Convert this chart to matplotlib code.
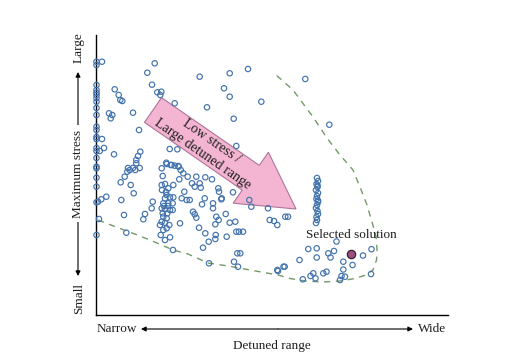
import numpy as np
import matplotlib
matplotlib.use("Agg")
import matplotlib.pyplot as plt
from matplotlib.patches import FancyArrow

plt.rcParams['font.family'] = ['Liberation Serif', 'DejaVu Serif']

# Candidate solutions (detuned range, max stress) in picture units (y grows downward = smaller stress)
detuned = [
    # column at narrow range
    96.5, 96.5, 96.5, 96.5, 96.5, 96.5, 96.5, 96.5, 96.5, 96.5, 96.5, 96.5,
    96.5, 96.5, 96.5, 96.5, 96.5, 96.5, 96.5, 96.5, 96.5, 96.5, 96.5,
    102, 102, 104, 99.7, 98, 101.3, 106.3, 99,
    # upper scatter
    154.7, 147.3, 152, 157.3, 161.3, 160.3, 114.7, 118.7, 120.3, 122.3, 133, 109,
    112.3, 110.7, 139, 174.7, 114, 140.3, 138, 136.3, 136.3, 128, 133, 139.7,
    166.3, 170.7, 174.7, 178.7, 169.7, 177.3, 199.7, 229.7, 248, 224, 229.7,
    261.3, 207, 233.7, 236.3, 305.3, 329.3,
    # left-middle
    124.7, 127.3, 129.7, 135.3, 120.7, 130.7, 133.7, 121.3, 124, 126.3, 173,
    # dense cluster
    161.7, 166.7, 171.7, 178.3, 180.7, 183.3, 187.7, 162.7, 161.7, 165, 173.3,
    168.3, 179.3, 184.3, 166.7, 165, 170, 173.3, 181.7, 186.7, 152.7,
    163.3, 168.3, 172.7, 151.7, 161.7, 165, 170, 172.7, 162.7, 167.3, 145,
    143.3, 163.3, 166.7, 161.7, 165, 169.3, 160, 180, 163.3, 166.7, 160.7,
    170, 165, 164, 168, 162, 166,
    # middle scatter
    196.3, 192, 199.7, 194.7, 200.7, 205.3, 212, 189.7, 202, 204.7, 213, 213,
    219, 221.3, 233, 193, 194.7, 196.3, 216.3, 218.7, 215.3, 225.7, 229.7,
    235.3, 199, 205.3, 215.7, 215.3, 208.7, 226.7, 236.3, 239, 243, 203,
    237.3, 240.3, 234, 238, 209, 269.7, 274, 277.3, 285.3, 251.3, 268, 278,
    284.7, 218.3, 221.7, 249.3,
    # column at wide range
    317, 318, 316.5, 317.5, 316, 318, 317, 316.5, 318, 317, 316, 317.5,
    318, 316.5, 317, 316, 317.5, 318,
    # lower right
    308.3, 316.7, 299.5, 316.7, 328.3, 334, 330.5, 336.5, 343.3, 352.5, 363,
    371.5, 371, 343.3, 341.5, 302.8, 310.5, 313.3, 315.5, 323.3, 326.5, 340,
    345, 277.3, 283.5, 288,
]
stress = [
    61.7, 65, 85, 90, 92.7, 95, 98, 101.7, 108, 115, 126.7, 130,
    137, 139, 148, 151, 158, 166.7, 168.3, 177.7, 186.7, 202.3, 235,
    61.7, 139, 148, 151, 201.7, 199.3, 196.7, 219,
    63.3, 72.7, 84.7, 92.3, 91.7, 95, 89.3, 95, 100, 101, 112.7, 113.3,
    115, 118.3, 130, 103.3, 154.3, 151.7, 156, 160, 163.3, 168, 168, 168,
    162.7, 165, 165.7, 166.7, 149, 149.3, 76.7, 73.3, 69, 88.3, 96.7,
    101.7, 107.3, 118.7, 146, 79, 124.7,
    176.7, 171.7, 170, 170, 182.3, 185, 193.3, 200, 215, 232.7, 250,
    168.3, 164, 165, 166, 170, 173.3, 176.7, 176, 185, 184, 185,
    188.3, 179.3, 191.7, 195, 198.3, 197.3, 197.3, 198.3, 200, 201.7,
    203.3, 203.3, 203.3, 208.3, 208.3, 209.3, 210, 210, 213.3, 213.3, 214,
    219.3, 216.7, 218.3, 221.7, 222.7, 225, 225, 223.3, 230, 228.3, 235,
    237.3, 240, 206, 206, 190, 192,
    176.7, 183.3, 183.3, 186.7, 187.7, 177.3, 179.3, 200, 204.3, 198.3, 203.3, 208.3,
    191.7, 199.3, 192.3, 211.7, 214.3, 217.7, 216.7, 220, 224.3, 214, 222.7,
    221.7, 227.7, 233.3, 235, 239, 241.7, 236.7, 231.7, 231.7, 231.7, 247.7,
    253.3, 253.3, 261.7, 266.7, 263.3, 220, 221, 225, 216.7, 206.7, 208.3, 271,
    266.7, 188.3, 198.3, 200,
    178, 181, 184, 187, 190, 193, 196, 199, 202, 205, 208, 211,
    214, 217, 220, 223, 185.5, 200.5,
    249, 248.3, 260, 257.5, 253.3, 251, 257.5, 241.5, 261.7, 265, 255.5,
    249.2, 274, 269.5, 276, 279.3, 276, 273.3, 278.3, 273.3, 271.7, 280,
    276.7, 270, 266.7, 216.7,
]

selected_detuned = [350.7]
selected_stress = [254.3]

# Dashed boundary of the favourable region
boundary_x = [98, 120, 140, 157, 173, 188, 208, 228, 250, 278, 290, 305, 323, 340, 355,
              366, 373, 376.5, 377, 376, 372, 367, 360, 353, 340, 327, 313, 293, 275]
boundary_y = [220, 228.5, 236, 243, 250, 254, 263, 266, 270, 275, 278.5, 281, 282, 281, 278.5,
              275, 270, 260, 250, 236, 222, 205, 187, 170, 155, 138, 117, 90, 74]

FS = 9.5
TXT = '#1e1e1e'

fig = plt.figure(figsize=(5.21, 3.60), dpi=100)
ax = fig.add_axes([96 / 521, 45 / 360, 352 / 521, 280 / 360])
ax.set_xlim(96, 448)
ax.set_ylim(315, 35)
ax.set_xticks([])
ax.set_yticks([])
for s in ['top', 'right']:
    ax.spines[s].set_visible(False)
for s in ['left', 'bottom']:
    ax.spines[s].set_linewidth(1.0)
    ax.spines[s].set_color('black')

# boundary
ax.plot(boundary_x, boundary_y, linestyle=(0, (4.5, 4)), color='#74986a', lw=1.0, zorder=1)

# big pink arrow
arr = FancyArrow(153, 110, 143, 99, width=30, head_width=62, head_length=55,
                 length_includes_head=True, facecolor='#f3b5d1', edgecolor='#b0749a',
                 lw=0.8, zorder=2)
ax.add_patch(arr)
ax.text(207, 147.5, 'Low stress /\nLarge detuned range', rotation=-34.7,
        rotation_mode='anchor', ha='center', va='center', multialignment='center',
        fontsize=10, linespacing=1.25, color=TXT, zorder=4)

# scatter
ax.scatter(detuned, stress, s=15, facecolors='none', edgecolors='#4272ad',
           linewidths=0.85, zorder=3, clip_on=False)
ax.scatter(selected_detuned, selected_stress, s=36, facecolors='#9c4e7c',
           edgecolors='#3a1f2e', linewidths=0.9, zorder=5)
ax.text(351, 235, 'Selected solution', ha='center', va='center', fontsize=FS,
        color=TXT, zorder=6)

# axis annotations (outside axes)
ap = dict(arrowstyle='-|>', color='black', lw=0.8, mutation_scale=7, shrinkA=0, shrinkB=0)
ax.annotate('', xy=(141, 329), xytext=(278, 329), arrowprops=ap, annotation_clip=False)
ax.annotate('', xy=(413, 329), xytext=(278, 329), arrowprops=ap, annotation_clip=False)
ax.text(96.5, 329, 'Narrow', ha='left', va='center', fontsize=FS, color=TXT, clip_on=False)
ax.text(418, 329, 'Wide', ha='left', va='center', fontsize=FS, color=TXT, clip_on=False)
ax.text(272, 346, 'Detuned range', ha='center', va='center', fontsize=FS, color=TXT,
        clip_on=False)

ax.annotate('', xy=(78, 72), xytext=(78, 175), arrowprops=ap, annotation_clip=False)
ax.annotate('', xy=(78, 276), xytext=(78, 175), arrowprops=ap, annotation_clip=False)
ax.text(78, 173.5, 'Maximum stress', rotation=90, ha='center', va='center', fontsize=FS,
        color=TXT, clip_on=False, bbox=dict(facecolor='white', edgecolor='none', pad=3))
ax.text(79, 48, 'Large', rotation=90, ha='center', va='center', fontsize=FS, color=TXT,
        clip_on=False)
ax.text(79, 298, 'Small', rotation=90, ha='center', va='center', fontsize=FS, color=TXT,
        clip_on=False)

fig.savefig('out.png', dpi=100)
